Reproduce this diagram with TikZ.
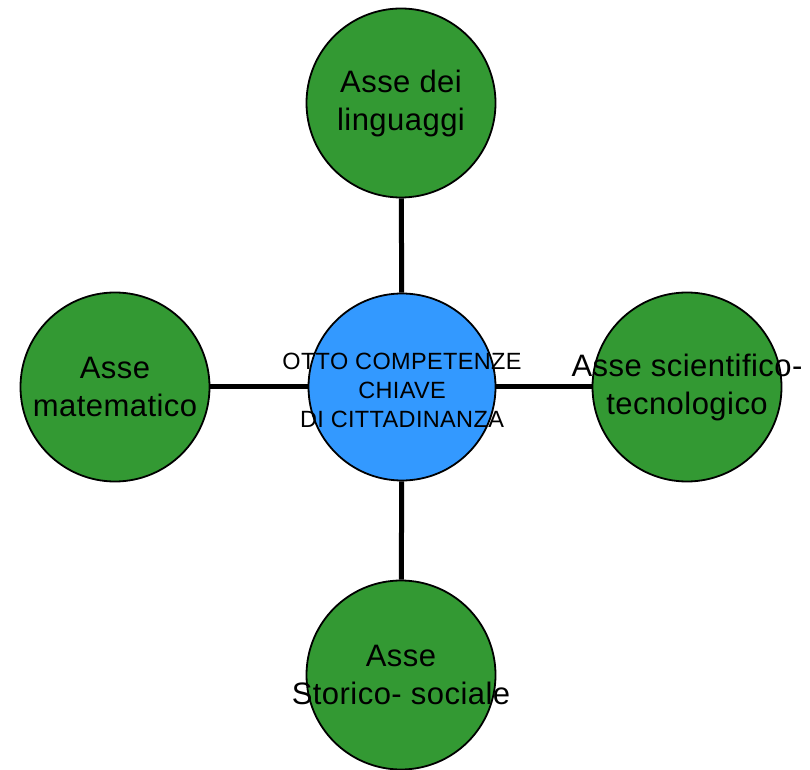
\documentclass[tikz,border=0pt]{standalone}
\usepackage{fontspec}
\setmainfont{Liberation Sans}[LetterSpace=1.5]
\definecolor{asgreen}{RGB}{51,153,51}
\definecolor{ctrblue}{RGB}{51,153,255}
\begin{document}
\begin{tikzpicture}[x=1pt,y=1pt,
  axis/.style={circle,draw=black,line width=1.8pt,fill=asgreen,minimum size=189pt,inner sep=0pt},
  core/.style={circle,draw=black,line width=1.8pt,fill=ctrblue,minimum size=187pt,inner sep=0pt},
  lbl/.style={align=center,inner sep=0pt,font=\fontsize{31}{38}\selectfont},
  clbl/.style={align=center,inner sep=0pt,font=\fontsize{23.5}{29}\selectfont},
  link/.style={line width=5pt,draw=black}]
\useasboundingbox (0,0) rectangle (810,769);
\node[core] (ctr) at (402,382) {};
\node[axis] (top) at (401,666) {};
\node[axis] (left) at (115,382) {};
\node[axis] (right) at (687,382) {};
\node[axis] (bot) at (401,94) {};
\draw[link] (ctr) -- (top);
\draw[link] (ctr) -- (left);
\draw[link] (ctr) -- (right);
\draw[link] (ctr) -- (bot);
\node[clbl] (tc) at ([yshift=-3pt]ctr.center) {OTTO COMPETENZE\\CHIAVE\\DI CITTADINANZA};
\node[lbl] (tt) at (top.center) {Asse dei\\linguaggi};
\node[lbl] (tl) at (left.center) {Asse\\matematico};
\node[lbl] (tr) at (right.center) {Asse scientifico-\\tecnologico};
\node[lbl] (tb) at (bot.center) {Asse\\Storico- sociale};
\end{tikzpicture}
\end{document}
